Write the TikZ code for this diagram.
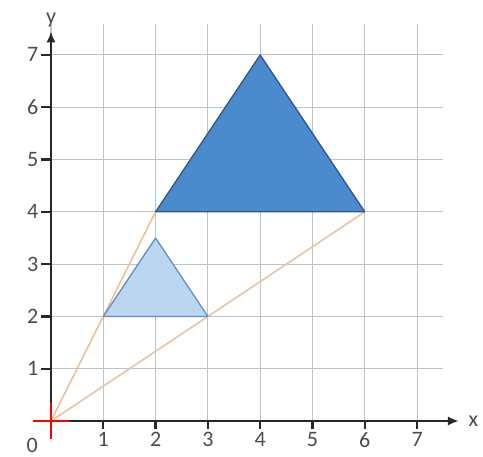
\documentclass[tikz,border=0pt]{standalone}
\usepackage{fontspec}
\setmainfont{Carlito}
\usepackage{xcolor}
\definecolor{gridGray}{RGB}{184,198,206}
\definecolor{rayTan}{RGB}{236,196,160}
\definecolor{imgFill}{RGB}{74,138,205}
\definecolor{imgDraw}{RGB}{46,86,136}
\definecolor{srcFill}{RGB}{186,214,240}
\definecolor{srcDraw}{RGB}{96,142,192}
\definecolor{axisDark}{RGB}{40,40,40}
\usepackage{tikz}
\usetikzlibrary{
    arrows.meta,
    positioning
}

\begin{document}
\begin{tikzpicture}[
    gridLine/.style={draw=gridGray, line width=0.6pt},
    rayLine/.style={draw=rayTan, line width=0.9pt},
    imgTri/.style={fill=imgFill, draw=imgDraw, line width=0.7pt, line join=round},
    srcTri/.style={fill=srcFill, draw=srcDraw, line width=0.7pt, line join=round},
    axisLine/.style={
        -{Latex[length=6pt, width=5pt]}, line width=1.2pt, draw=axisDark
    },
    tickLine/.style={line width=1.2pt, draw=axisDark},
    originMark/.style={draw=red, line width=1.4pt},
    tickLabel/.style={
        font=\fontsize{12}{14}\selectfont, text=black!70, inner sep=1pt
    }
]
    \useasboundingbox (-0.975,-0.67) rectangle (8.26,8.05);

    % Background grid
    \draw[gridLine] (0,0) grid (7.5,7.6);

    % Points
    \coordinate (O) at (0,0);
    \coordinate (srcA) at (1,2);
    \coordinate (srcB) at (3,2);
    \coordinate (srcC) at (2,3.5);
    \coordinate (imgA) at (2,4);
    \coordinate (imgB) at (6,4);
    \coordinate (imgC) at (4,7);

    % Projection rays
    \draw[rayLine] (O) -- (imgA);
    \draw[rayLine] (O) -- (imgB);

    % Triangles
    \draw[srcTri] (srcA) -- (srcB) -- (srcC) -- cycle;
    \draw[imgTri] (imgA) -- (imgB) -- (imgC) -- cycle;

    % Axes
    \coordinate (xStart) at (-0.3,0);
    \coordinate (xEnd) at (7.8,0);
    \coordinate (yStart) at (0,-0.3);
    \coordinate (yEnd) at (0,7.45);
    \draw[axisLine] (xStart) -- (xEnd);
    \draw[axisLine] (yStart) -- (yEnd);
    \node[tickLabel, right=4pt of xEnd] (xName) {x};
    \node[tickLabel, above=1pt of yEnd] (yName) {y};

    % Ticks
    \foreach \k in {1,...,7} {
        \draw[tickLine] (\k,0) -- (\k,-0.15);
        \node[tickLabel, anchor=north] (xlab\k) at (\k,-0.17) {\k};
        \draw[tickLine] (0,\k) -- (-0.2,\k);
        \node[tickLabel, anchor=east] (ylab\k) at (-0.2,\k) {\k};
    }

    % Origin marker
    \coordinate (crossL) at (-0.35,0);
    \coordinate (crossR) at (0.35,0);
    \coordinate (crossD) at (0,-0.35);
    \coordinate (crossU) at (0,0.35);
    \draw[originMark] (crossL) -- (crossR);
    \draw[originMark] (crossD) -- (crossU);
    \node[tickLabel] (zeroLab) at (-0.36,-0.46) {0};

\end{tikzpicture}
\end{document}
